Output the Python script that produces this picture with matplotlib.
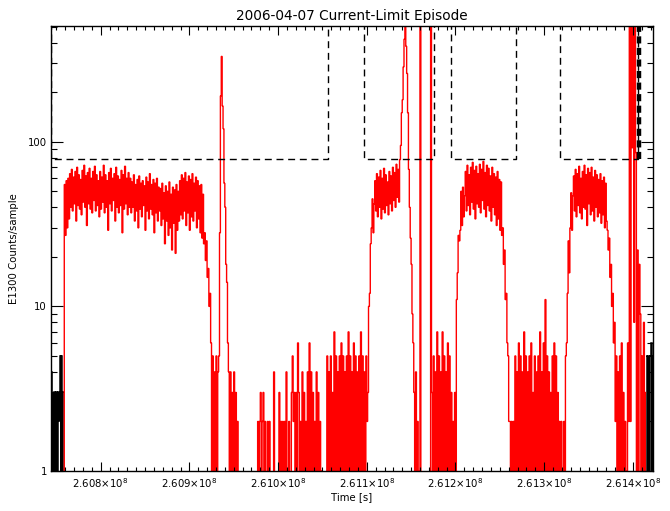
import matplotlib
matplotlib.use("Agg")
import matplotlib.pyplot as plt
import numpy as np
from matplotlib.ticker import FixedLocator, FixedFormatter, MultipleLocator, LogLocator, NullFormatter

plt.rcParams['font.family'] = ['DejaVu Sans']

# sample spacing of the count series [s]
dt = 1000.0

# red trace (selected interval), counts/sample, one list per stretch
red_start = 260756933.0
band1 = [0, 0, 55, 27, 58, 30, 60, 34,
         64, 40, 68, 38, 61, 42, 66, 33, 70, 41, 63, 39, 59, 36, 67, 43, 72, 40, 62, 31,
         65, 42, 69, 39, 60, 37, 66, 44, 71, 38, 63, 41, 58, 35,
         66, 39, 61, 43, 72, 37, 63, 40, 58, 29, 65, 42, 69, 38, 60, 44, 64, 33, 70, 40,
         62, 37, 59, 41, 67, 28, 63, 39, 71, 42, 60, 36, 65, 40,
         60, 37, 57, 40, 63, 33, 55, 38, 59, 30, 62, 39, 56, 35, 58, 41, 54, 29, 61, 38,
         57, 34, 64, 39, 55, 36, 59, 28, 56, 37, 60, 33, 53, 38,
         52, 31, 56, 34, 49, 24, 54, 33, 50, 27, 57, 30, 48, 22, 53, 32, 51, 21, 55, 29,
         50, 33,
         58, 36, 63, 34, 60, 38, 65, 31, 57, 37, 62, 29, 59, 35, 64, 33, 56, 38, 61, 30,
         58, 34, 54, 28]
fall1 = [55, 26, 48, 24, 28, 19, 25, 15, 17, 10, 12, 6]
low1 = [1, 5, 1, 4, 1, 5]
spike1 = [1, 4, 5, 28, 190, 330, 165, 120, 56, 40, 18, 14, 6, 4]
low2 = [1, 4, 1, 3, 1, 4, 1, 3, 1, 2]
quiet1 = [0] * 22 + [2, 1, 2, 3, 1, 2, 3, 1,
                     2, 0, 0, 2, 0, 2, 0, 0, 0, 0, 4, 0, 0, 0, 0, 0,
                     3, 1, 2, 1, 2, 1, 2, 0, 4, 0, 0, 2, 0, 0,
                     3, 5, 2, 3, 1, 3, 1, 6,
                     3, 1, 2, 1, 4, 1, 3, 1, 2, 1, 4, 1, 6, 1, 4, 1, 3, 1, 2, 1,
                     4, 1, 3, 1,
                     2, 0, 1, 0, 0, 0, 0, 0]
noise1 = [5, 1, 4, 1, 5, 1, 3, 1, 7, 1, 5, 1, 4, 1, 5, 1, 6, 1, 5, 1,
          4, 1, 5, 1, 7, 1, 5, 1, 4, 1, 6, 1, 5, 1, 4, 1, 5, 1, 7, 1, 5, 1]
rise2 = [4, 1, 5, 2, 3, 10, 12, 24, 30, 45, 28, 42]
band2 = [58, 38, 64, 35, 61, 40, 67, 34, 60, 39, 69, 37, 63, 41, 57, 36, 66, 42, 62, 38,
         70, 44, 65, 40, 73, 46, 68, 43]
spike2 = [78, 95, 150, 180, 285, 420, 1000, 380, 260, 150, 68, 40, 26, 18, 9, 6]
low3 = [3, 1, 4, 1, 2, 1]
spikes3 = [1, 1000, 0, 0, 0, 0, 0, 0, 0, 0, 0, 0, 0, 1000, 3, 0]
noise2 = [5, 1, 4, 1, 7, 1, 5, 1, 4, 1, 7, 1, 5, 1, 4, 1, 6, 1, 5, 1, 3, 1, 2, 1]
rise3 = [3, 1, 11, 16, 27, 25, 29, 50, 31, 53, 35, 47]
band3 = [66, 38, 72, 41, 63, 36, 70, 43, 75, 39, 67, 34, 71, 42, 64, 40, 73, 37, 68, 44,
         76, 39, 65, 35, 72, 41, 69, 38, 62, 33, 70, 40, 64, 36, 61, 31, 66, 34, 59, 29,
         57, 27]
fall3 = [30, 18, 22, 11, 12, 6, 5, 2]
noise3 = [2, 1, 2, 1, 2, 1,
          5, 1, 4, 1, 6, 1, 5, 1, 4, 1, 7, 1, 5, 1, 4, 1, 5, 1, 6, 1,
          3, 1, 5, 1, 4, 1, 5, 1, 7, 1, 4, 1, 6, 1, 11, 1, 5, 1, 4, 1,
          3, 1, 5, 1, 6, 1, 5, 1,
          3, 1, 2, 1, 2, 1, 1, 2]
rise4 = [1, 5, 6, 12, 25, 16, 30, 49, 29, 47]
band4 = [62, 38, 68, 35, 64, 41, 71, 37, 60, 34, 66, 40, 72, 39, 63, 31, 69, 42, 65, 36,
         70, 38, 61, 33, 67, 40, 63, 35, 59, 37, 64, 32, 58, 36, 61, 30, 56, 33]
fall4 = [29, 22, 26, 15, 18, 10, 12, 6]
noise4 = [8, 2, 5, 1, 4, 1, 5, 1, 6, 1, 3, 1, 2, 1]
spikes4 = [1, 6, 2, 1000, 2, 1000, 92, 1000, 8, 1000, 86, 1, 22, 1, 18, 9, 1, 5, 1, 8, 1, 3]

# black trace outside the selected interval
black_left_start = 260741713.0
black_left = [3, 1, 4, 1, 3, 1, 3, 1, 3, 1, 3, 2, 5, 1, 5, 1, 3]
black_right_start = 261414997.0
black_right = [5, 1, 5, 1, 5, 6, 1, 5, 1, 5]

# dashed boxes (episode windows)
box_left = [260743968.0, 261097183.0, 261194590.0, 261318153.0]
box_right = [261055920.0, 261176101.0, 261268547.0, 261405414.0]
box_low = 79.0
box_high = 1000.0
edge_extra = 261406316.0

xticks = [2.608e8, 2.609e8, 2.610e8, 2.611e8, 2.612e8, 2.613e8, 2.614e8]
xtick_labels = ['2.608×10$^8$', '2.609×10$^8$', '2.610×10$^8$', '2.611×10$^8$',
                '2.612×10$^8$', '2.613×10$^8$', '2.614×10$^8$']
yticks = [1, 10, 100]
ytick_labels = ['1', '10', '100']

red = np.concatenate([band1, fall1, low1, spike1, low2, quiet1, noise1, rise2, band2,
                      spike2, low3, spikes3, noise2, rise3, band3, fall3, noise3,
                      rise4, band4, fall4, noise4, spikes4]).astype(float)
red_edges = red_start + dt * np.arange(len(red) + 1)
bl = np.array(black_left, float)
bl_edges = black_left_start + dt * np.arange(len(bl) + 1)
br = np.array(black_right, float)
br_edges = black_right_start + dt * np.arange(len(br) + 1)

fig = plt.figure(figsize=(6.7, 5.11), dpi=100)
ax = fig.add_axes([51 / 670, 40 / 511, 602 / 670, 445 / 511])
ax.set_yscale('log', nonpositive='clip')

ax.stairs(bl, bl_edges, baseline=None, color='black', lw=1.1)
ax.stairs(br, br_edges, baseline=None, color='black', lw=1.1)
ax.stairs(red, red_edges, baseline=None, color='red', lw=1.0)

dash = (0, (5, 3.4))
for x0, x1 in zip(box_left, box_right):
    ax.plot([x0, x0, x1, x1], [box_high, box_low, box_low, box_high],
            color='black', lw=1.0, linestyle=dash, zorder=3)
ax.plot([edge_extra, edge_extra], [box_low, box_high], color='black', lw=3.2,
        linestyle=(0, (1.6, 1.0)), zorder=3)

ax.set_xlim(260743968.0, 261422663.0)
ax.set_ylim(1, 505)

ax.xaxis.set_major_locator(FixedLocator(xticks))
ax.xaxis.set_major_formatter(FixedFormatter(xtick_labels))
ax.xaxis.set_minor_locator(MultipleLocator(1e4))
ax.yaxis.set_major_locator(FixedLocator(yticks))
ax.yaxis.set_major_formatter(FixedFormatter(ytick_labels))
ax.yaxis.set_minor_locator(LogLocator(base=10, subs=np.arange(2, 10)))
ax.yaxis.set_minor_formatter(NullFormatter())

ax.tick_params(axis='x', which='major', direction='in', length=6.4, width=0.8,
               top=True, labelsize=7.3, pad=4)
ax.tick_params(axis='x', which='minor', direction='in', length=3.2, width=0.8, top=True)
ax.tick_params(axis='y', which='major', direction='in', length=8.6, width=0.8,
               right=True, labelsize=7.3, pad=3)
ax.tick_params(axis='y', which='minor', direction='in', length=4.3, width=0.8, right=True)
for s in ax.spines.values():
    s.set_linewidth(1.0)

ax.set_title('2006-04-07 Current-Limit Episode', fontsize=9.8, pad=4)
ax.set_xlabel('Time [s]', fontsize=7.3, labelpad=1)
ax.set_ylabel('E1300 Counts/sample', fontsize=7.3, labelpad=6)

fig.savefig('out.png', dpi=100)
